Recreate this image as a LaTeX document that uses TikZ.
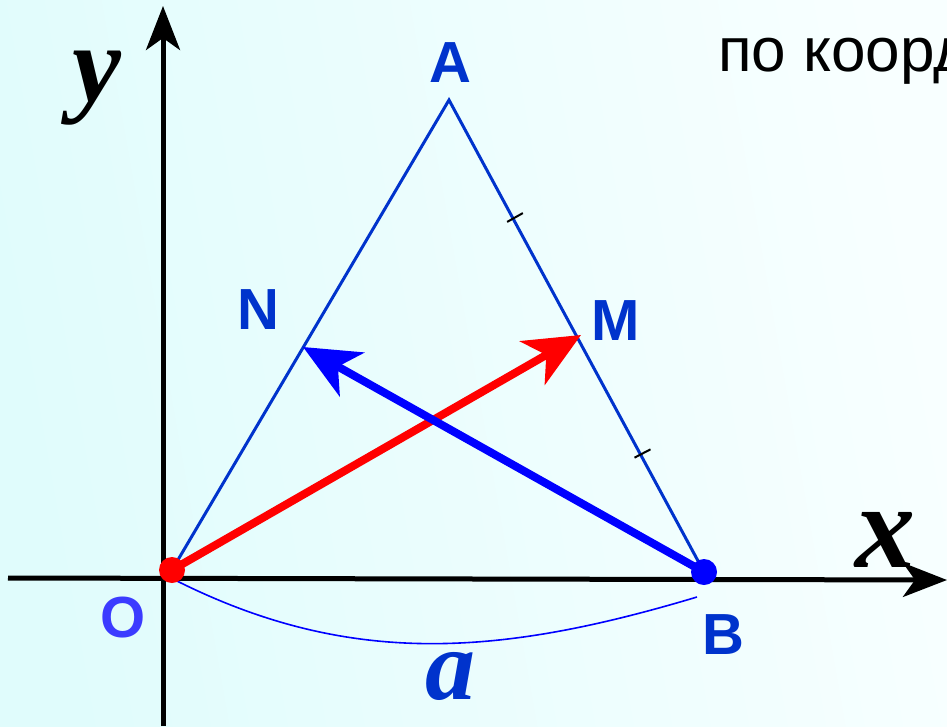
\documentclass[tikz,border=0pt]{standalone}
\usepackage{fontspec}
\usetikzlibrary{arrows.meta,calc}
\newfontfamily\arialf{Liberation Sans}
\newfontfamily\tnrf{Liberation Serif}
\definecolor{tri}{HTML}{0033CC}
\definecolor{olab}{HTML}{3B3BFF}
\definecolor{bgA}{HTML}{E0FCFC}
\definecolor{bgB}{HTML}{F8FFFF}
\tikzset{
  axis/.style={line width=5pt,draw=black,-{Stealth[length=44pt,width=34pt,inset=12pt]}},
  triside/.style={line width=3pt,draw=tri},
  vec/.style={line width=8pt,-{Stealth[length=56pt,width=50pt,inset=16pt]}},
  ptlab/.style={font=\arialf\bfseries\fontsize{58}{58}\selectfont,inner sep=0pt},
  varlab/.style={font=\tnrf\bfseries\itshape\fontsize{120}{120}\selectfont,inner sep=0pt},
  tick/.style={line width=2pt,draw=black},
  dotp/.style={circle,inner sep=0pt,minimum size=26pt}
}
\begin{document}
\begin{tikzpicture}[x=1pt,y=-1pt]
\useasboundingbox (0,0) rectangle (947,726);
\clip (0,0) rectangle (947,726);
\shade[left color=bgA,right color=bgB,shading angle=100] (0,0) rectangle (947,726);
% coordinates
\coordinate (O) at (172,570);
\coordinate (A) at (449,100);
\coordinate (B) at (704,572);
\coordinate (M) at (581,335);
\coordinate (N) at (303,347);
\coordinate (xs) at (8,578);
\coordinate (xe) at (947,580);
\coordinate (ys) at (163,726);
\coordinate (ye) at (163,6);
\coordinate (c0) at (175,580);
\coordinate (c1) at (697,597);
% axes
\draw[axis] (xs) -- (xe);
\draw[axis] (ys) -- (ye);
% triangle
\draw[triside,line join=miter] (O) -- (A) -- (B);
% ticks
\coordinate (t1) at ($(A)!0.5!(M)$);
\coordinate (t2) at ($(M)!0.5!(B)$);
\draw[tick] ($(t1)!9pt!90:(A)$) -- ($(t1)!9pt!-90:(A)$);
\draw[tick] ($(t2)!9pt!90:(B)$) -- ($(t2)!9pt!-90:(B)$);
% brace curve
\draw[line width=1.6pt,draw=blue] (c0) .. controls (350,668) and (500,656) .. (c1);
% vectors
\draw[vec,draw=red,fill=red] (O) -- (M);
\draw[vec,draw=blue,fill=blue] (B) -- (N);
\node[dotp,fill=red] (Od) at (O) {};
\node[dotp,fill=blue] (Bd) at (B) {};
% labels
\node[ptlab,text=tri] (lA) at (450,63) {A};
\node[ptlab,text=tri] (lN) at (258,310) {N};
\node[ptlab,text=tri] (lM) at (616,321) {M};
\node[ptlab,text=tri] (lB) at (723,635) {B};
\node[ptlab,text=olab] (lO) at (123,618) {O};
\node[varlab,text=black,font=\tnrf\bfseries\itshape\fontsize{110}{110}\selectfont] (ly) at (97,88) {y};
\node[varlab,text=black] (lx) at (885,540) {x};
\node[varlab,text=tri,font=\tnrf\bfseries\itshape\fontsize{100}{100}\selectfont] (la) at (450,676) {a};
\node[font=\arialf\fontsize{62}{62}\selectfont,inner sep=0pt,anchor=base west] (title) at (718,71) {по коорд};
\end{tikzpicture}
\end{document}
